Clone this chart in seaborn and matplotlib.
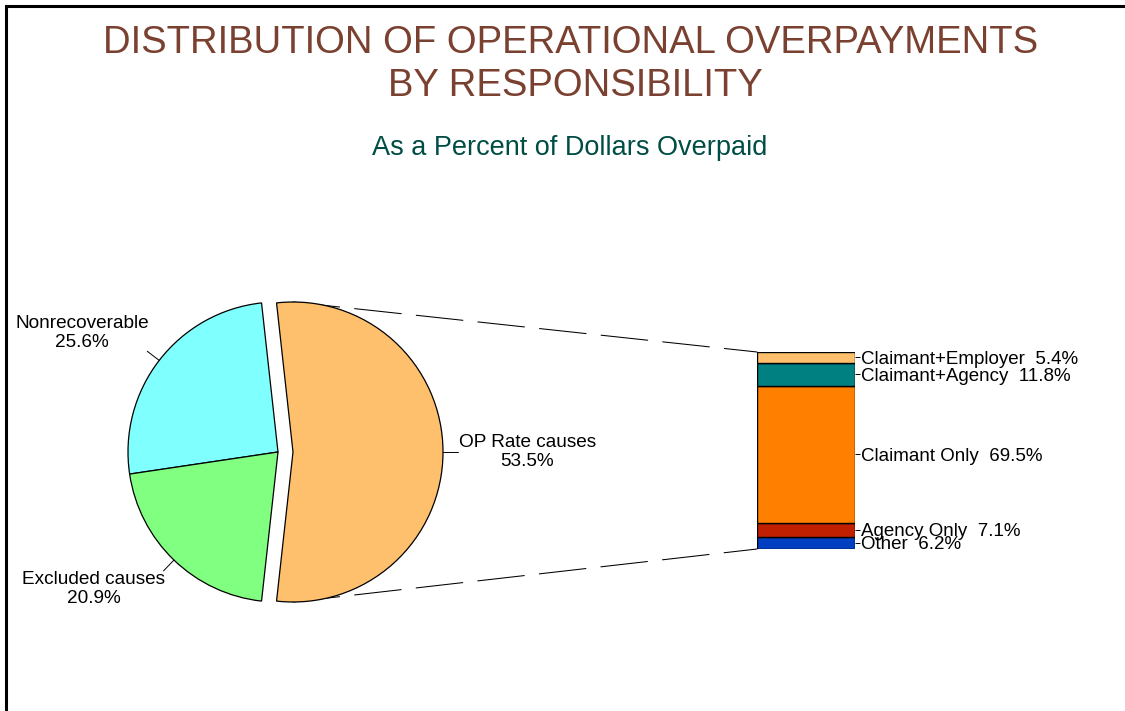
import matplotlib
matplotlib.use("Agg")
import matplotlib.pyplot as plt
import seaborn as sns
import numpy as np
import pandas as pd
from matplotlib.patches import ConnectionPatch, Rectangle

# ---------------- data ----------------
pie_labels = ["OP Rate causes", "Nonrecoverable", "Excluded causes"]
pie_values = [53.5, 25.6, 20.9]
pie_colors = ["#FFC06E", "#80FFFF", "#80FF80"]

bar_labels = ["Other", "Agency Only", "Claimant Only", "Claimant+Agency", "Claimant+Employer"]
bar_values = [6.2, 7.1, 69.5, 11.8, 5.4]
bar_colors = ["#0040C0", "#C02000", "#FF8000", "#008080", "#FFC06E"]

title_lines = ["DISTRIBUTION OF OPERATIONAL OVERPAYMENTS", "BY RESPONSIBILITY"]
subtitle = "As a Percent of Dollars Overpaid"

# ---------------- style ----------------
sns.set_theme(style="white")
plt.rcParams['font.family'] = ['Liberation Sans', 'DejaVu Sans']

W, H = 1125, 711
fig = plt.figure(figsize=(W / 100, H / 100), dpi=100)
fig.patch.set_facecolor("white")


def fx(px):
    return px / W


def fy(py):
    return 1 - py / H


# frame
fig.add_artist(Rectangle((fx(6), fy(H + 30)), 1.2, (H + 30 - 5.5) / H,
                         transform=fig.transFigure, fill=False,
                         edgecolor="black", linewidth=2.2, clip_on=False))

# titles
fig.text(fx(571), fy(53), title_lines[0], ha="center", va="baseline",
         fontsize=27.5, color="#7A4030")
fig.text(fx(575), fy(96), title_lines[1], ha="center", va="baseline",
         fontsize=27.5, color="#7A4030")
fig.text(fx(570), fy(155), subtitle, ha="center", va="baseline",
         fontsize=19.5, color="#004D45")

# ---------------- pie ----------------
cx, cy, r = 278, 452, 150
ax_pie = fig.add_axes([fx(cx - r), fy(cy + r), 2 * r / W, 2 * r / H])
ax_pie.patch.set_visible(False)
explode = [0.1, 0, 0]
start = -pie_values[0] * 3.6 / 2
wedges, _ = ax_pie.pie(pie_values, colors=pie_colors, explode=explode,
                       startangle=start, counterclock=True,
                       wedgeprops=dict(edgecolor="black", linewidth=0.9))
ax_pie.set_xlim(-1, 1)
ax_pie.set_ylim(-1, 1)
ax_pie.set_aspect("equal")
ax_pie.axis("off")

for w, lab, val, ex in zip(wedges, pie_labels, pie_values, explode):
    th = np.deg2rad((w.theta1 + w.theta2) / 2)
    c, s = np.cos(th), np.sin(th)
    ox, oy = ex * c, ex * s
    x0, y0 = ox + 1.0 * c, oy + 1.0 * s
    x1, y1 = ox + 1.1 * c, oy + 1.1 * s
    ax_pie.plot([x0, x1], [y0, y1], color="black", linewidth=0.7, clip_on=False)
    ha = "left" if c > 0.3 else ("right" if c < -0.3 else "center")
    va = "center" if abs(s) < 0.3 else ("bottom" if s > 0 else "top")
    ax_pie.text(x1 + (0.005 if c > 0 else 0.01), y1, f"{lab}\n{val:.1f}%",
                ha=ha, va=va, multialignment="center", fontsize=13.7,
                color="black", clip_on=False)

# ---------------- stacked bar ----------------
bx0, bx1, by0, by1 = 757, 855, 352, 549
ax_bar = fig.add_axes([fx(bx0), fy(by1), (bx1 - bx0) / W, (by1 - by0) / H])
ax_bar.patch.set_visible(False)
df = pd.DataFrame({"segment": bar_labels, "value": bar_values})
df["bottom"] = np.concatenate([[0], np.cumsum(bar_values)[:-1]])
for i, row in df.iterrows():
    sns.barplot(x=[0], y=[row["value"]], bottom=row["bottom"], color=bar_colors[i],
                width=1, saturation=1, errorbar=None, edgecolor="black",
                linewidth=1.0, ax=ax_bar)
ax_bar.set_xlim(-0.5, 0.5)
ax_bar.set_ylim(0, 100)
for sp in ax_bar.spines.values():
    sp.set_visible(False)
ax_bar.set_xticks([])
ax_bar.set_xlabel("")
ax_bar.set_ylabel("")
ax_bar.set_yticks(df["bottom"] + df["value"] / 2)
ax_bar.set_yticklabels([f"{s}  {v:.1f}%" for s, v in zip(df["segment"], df["value"])])
ax_bar.tick_params(axis="y", which="major", left=False, right=True,
                   labelleft=False, labelright=True, length=3.8, width=0.7,
                   color="black", pad=0.5, labelsize=13.5, labelcolor="black")

# connector lines
o = explode[0]
for ypie, ybar in [(1.0, 100), (-1.0, 0)]:
    con = ConnectionPatch(xyA=(o, ypie), coordsA=ax_pie.transData,
                          xyB=(-0.5, ybar), coordsB=ax_bar.transData,
                          linestyle=(0, (45, 14.5)), linewidth=0.75,
                          color="black", zorder=-1)
    fig.add_artist(con)

fig.savefig("out.png", dpi=100, facecolor="white")
